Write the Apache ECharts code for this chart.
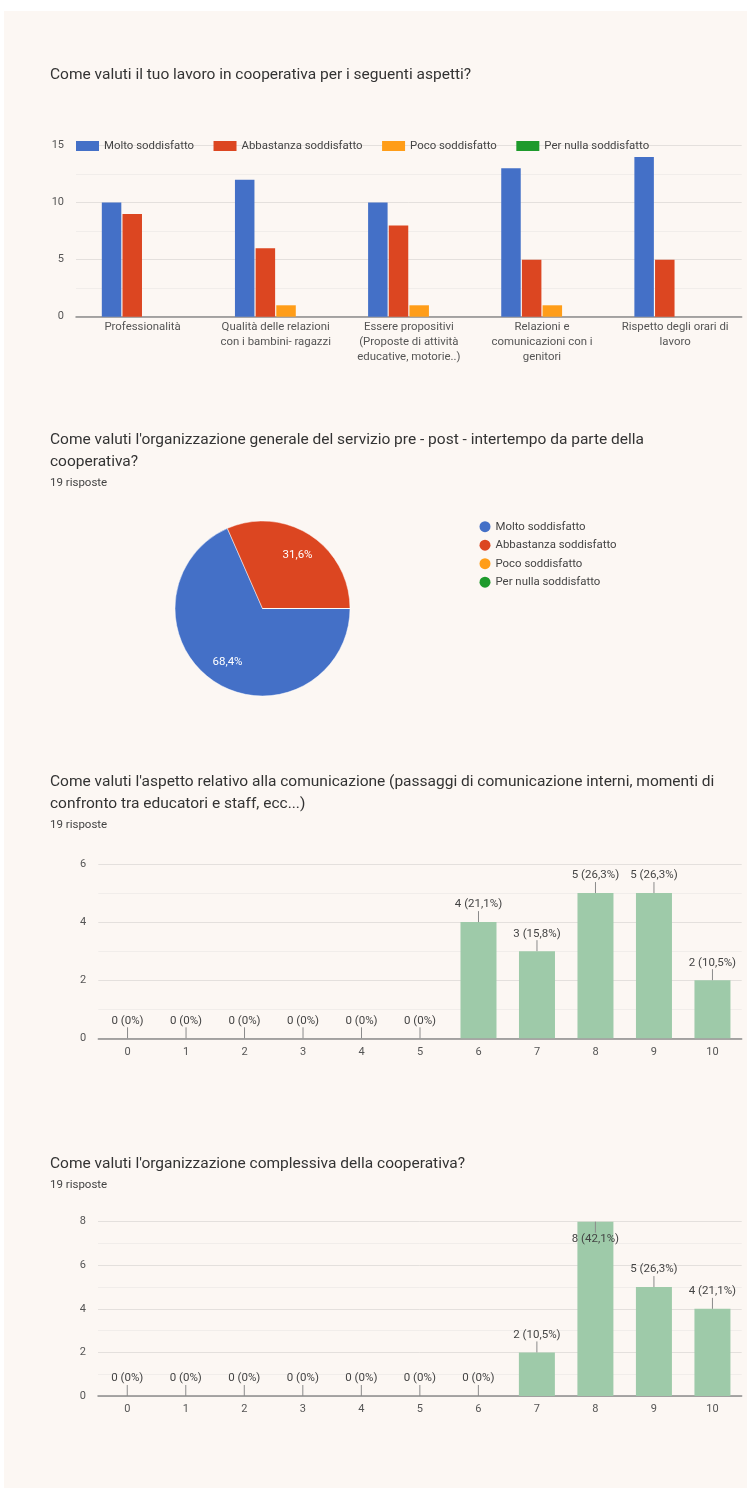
<!DOCTYPE html>
<html>
<head>
<meta charset="utf-8">
<script src="https://cdn.jsdelivr.net/npm/echarts@6/dist/echarts.min.js"></script>
<style>
  html, body { margin: 0; padding: 0; background: #fff; }
  #main { width: 747px; height: 1488px; }
</style>
</head>
<body>
<div id="main"></div>
<script>
  var risposte = 19;
  var livelli = ['Molto soddisfatto', 'Abbastanza soddisfatto', 'Poco soddisfatto', 'Per nulla soddisfatto'];
  var aspetti = [
    'Professionalità',
    'Qualità delle relazioni\ncon i bambini- ragazzi',
    'Essere propositivi\n(Proposte di attività\neducative, motorie..)',
    'Relazioni e\ncomunicazioni con i\ngenitori',
    'Rispetto degli orari di\nlavoro'
  ];
  var molto = [10, 12, 10, 13, 14];
  var abbastanza = [9, 6, 8, 5, 5];
  var poco = [0, 1, 1, 1, 0];
  var perNulla = [0, 0, 0, 0, 0];

  var orgServizio = [13, 6, 0, 0];

  var punteggi = ['0', '1', '2', '3', '4', '5', '6', '7', '8', '9', '10'];
  var comunicazione = [0, 0, 0, 0, 0, 0, 4, 3, 5, 5, 2];
  var orgComplessiva = [0, 0, 0, 0, 0, 0, 0, 2, 8, 5, 4];

  var colori = ['#4470c7', '#dc4621', '#ff9d18', '#1e9a2c'];
  var verde = '#9ecaa9';
  var font = 'Roboto';

  function percentuale(v) {
    if (v === 0) return '0%';
    return (v / risposte * 100).toFixed(1).replace('.', ',') + '%';
  }

  function titolo(testo, top, sub) {
    return {
      text: testo,
      subtext: sub ? risposte + ' risposte' : '',
      left: 50,
      top: top,
      padding: 0,
      itemGap: 2.5,
      textStyle: {fontFamily: font, fontSize: 15.5, fontWeight: 'normal', color: '#333', lineHeight: 22},
      subtextStyle: {fontFamily: font, fontSize: 11.5, color: '#444', lineHeight: 16}
    };
  }

  var assiY = function (idx, max, interval) {
    return {
      type: 'value', gridIndex: idx, min: 0, max: max, interval: interval,
      axisLine: {show: false}, axisTick: {show: false},
      axisLabel: {fontFamily: font, fontSize: 11, color: '#555', margin: 12},
      splitLine: {lineStyle: {color: '#e4e0dd'}},
      minorTick: {show: false, splitNumber: 2},
      minorSplitLine: {show: true, lineStyle: {color: '#f1edea'}}
    };
  };

  var assiX = function (idx, data, opts) {
    return Object.assign({
      type: 'category', gridIndex: idx, data: data,
      axisTick: {show: false},
      axisLine: {lineStyle: {color: '#8c8c8c', width: 1.5}},
      axisLabel: {fontFamily: font, fontSize: 11, color: '#555', margin: 8, interval: 0}
    }, opts || {});
  };

  // etichette "n (x%)" con la lineetta sopra la barra
  function annotazioni(xi, yi, valori) {
    return {
      type: 'custom', xAxisIndex: xi, yAxisIndex: yi, z: 5, silent: true,
      data: valori.map(function (v, i) { return [i, v]; }),
      renderItem: function (params, api) {
        var p = api.coord([api.value(0), api.value(1)]);
        var dir = (p[1] - 26 < params.coordSys.y) ? 1 : -1;
        return {
          type: 'group',
          children: [
            {type: 'line', shape: {x1: p[0], y1: p[1], x2: p[0], y2: p[1] + dir * 11},
              style: {stroke: '#8a8a8a', lineWidth: 1}},
            {type: 'text', style: {
              x: p[0], y: p[1] + dir * 17.5, text: api.value(1) + ' (' + percentuale(api.value(1)) + ')',
              align: 'center', verticalAlign: 'middle', fontFamily: font, fontSize: 11.5, fill: '#444'}}
          ]
        };
      }
    };
  }

  var myChart = echarts.init(document.getElementById('main'));

  var serieAspetti = [molto, abbastanza, poco, perNulla].map(function (d, i) {
    return {
      name: livelli[i], type: 'bar', xAxisIndex: 0, yAxisIndex: 0,
      data: d, barWidth: 19.5, barGap: '6%', itemStyle: {color: colori[i]}
    };
  });

  myChart.setOption({
    backgroundColor: '#fcf7f3',
    title: [
      titolo('Come valuti il tuo lavoro in cooperativa per i seguenti aspetti?', 64, false),
      titolo("Come valuti l'organizzazione generale del servizio pre - post - intertempo da parte della\ncooperativa?", 429, true),
      titolo("Come valuti l'aspetto relativo alla comunicazione (passaggi di comunicazione interni, momenti di\nconfronto tra educatori e staff, ecc...)", 770.7, true),
      titolo("Come valuti l'organizzazione complessiva della cooperativa?", 1153, true)
    ],
    legend: [
      {
        data: livelli, left: 76, top: 139, padding: 0, icon: 'rect',
        itemWidth: 23, itemHeight: 10, itemGap: 19.5, selectedMode: false,
        textStyle: {fontFamily: font, fontSize: 11.4, color: '#444', lineHeight: 14}
      },
      {
        data: livelli, orient: 'vertical', left: 479.5, top: 519.7, padding: 0, icon: 'circle',
        itemWidth: 11, itemHeight: 11, itemGap: 4.5, selectedMode: false,
        textStyle: {fontFamily: font, fontSize: 11.4, color: '#444', lineHeight: 14}
      }
    ],
    grid: [
      {left: 76, right: 5.3, top: 145.5, bottom: 1171.3},
      {left: 98.3, right: 5.3, top: 864, bottom: 449.7},
      {left: 98, right: 5.3, top: 1221.7, bottom: 92}
    ],
    xAxis: [
      assiX(0, aspetti, {axisLabel: {fontFamily: font, fontSize: 11.4, color: '#555', margin: 3, lineHeight: 15, interval: 0}}),
      assiX(1, punteggi),
      assiX(2, punteggi)
    ],
    yAxis: [
      assiY(0, 15, 5),
      assiY(1, 6, 2),
      assiY(2, 8, 2)
    ],
    series: serieAspetti.concat([
      {
        type: 'pie', center: [262.5, 608.5], radius: 87.5,
        startAngle: 0, clockwise: true, silent: true,
        data: orgServizio.map(function (v, i) {
          return {name: livelli[i], value: v, itemStyle: {color: colori[i]}};
        }),
        itemStyle: {borderColor: 'rgba(255,255,255,0.6)', borderWidth: 0.8},
        label: {show: false}, labelLine: {show: false}
      },
      {
        // serie trasparente solo per mettere le percentuali più verso il bordo
        type: 'pie', center: [262.5, 608.5], radius: 122,
        startAngle: 0, clockwise: true, silent: true,
        data: orgServizio.map(function (v, i) {
          return {name: livelli[i], value: v, itemStyle: {color: 'rgba(0,0,0,0)'}};
        }),
        label: {
          show: true, position: 'inside', color: '#fff', fontFamily: font, fontSize: 11.5,
          formatter: function (p) { return p.value ? percentuale(p.value) : ''; }
        },
        labelLine: {show: false}
      },
      {
        type: 'bar', xAxisIndex: 1, yAxisIndex: 1, data: comunicazione,
        barWidth: 36, itemStyle: {color: verde}
      },
      annotazioni(1, 1, comunicazione),
      {
        type: 'bar', xAxisIndex: 2, yAxisIndex: 2, data: orgComplessiva,
        barWidth: 36, itemStyle: {color: verde}
      },
      annotazioni(2, 2, orgComplessiva)
    ]),
    graphic: [
      {type: 'rect', shape: {x: 0, y: 0, width: 747, height: 11}, style: {fill: '#fff'}, silent: true},
      {type: 'rect', shape: {x: 0, y: 0, width: 4, height: 1488}, style: {fill: '#fff'}, silent: true}
    ]
  });
</script>
</body>
</html>
